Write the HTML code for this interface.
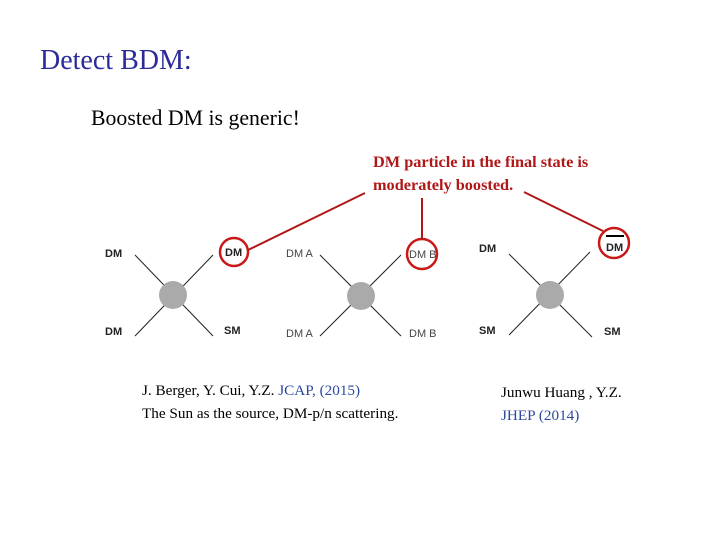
<!DOCTYPE html>
<html><head><style>
body{margin:0;width:720px;height:540px;background:#fff;position:relative;overflow:hidden;font-family:"Liberation Serif",serif}
.t{position:absolute;white-space:nowrap}
</style></head><body>
<div class="t" style="left:40px;top:45px;font-size:28px;color:#2b2b9a">Detect BDM:</div>
<div class="t" style="left:91px;top:106px;font-size:21.8px;color:#000">Boosted DM is generic!</div>
<div class="t" style="left:373px;top:150px;font-size:16.3px;font-weight:bold;line-height:23px;color:#b01818">DM particle in the final state is<br>moderately boosted.</div>
<svg width="720" height="540" style="position:absolute;left:0;top:0" font-family="Liberation Sans, sans-serif" font-size="11">
<g stroke="#222" stroke-width="1">
<line x1="135" y1="255" x2="213" y2="336"/><line x1="213" y1="255" x2="135" y2="336"/>
<line x1="320" y1="255" x2="401" y2="336"/><line x1="401" y1="255" x2="320" y2="336"/>
<line x1="509" y1="254" x2="592" y2="337"/><line x1="590" y1="252" x2="509" y2="335"/>
</g>
<circle cx="173" cy="295" r="14" fill="#aaa"/>
<circle cx="361" cy="296" r="14" fill="#aaa"/>
<circle cx="550" cy="295" r="14" fill="#aaa"/>
<g font-weight="bold" fill="#222">
<text x="105" y="257">DM</text><text x="105" y="335">DM</text>
<text x="225" y="256">DM</text><text x="224" y="334">SM</text>
<text x="479" y="252">DM</text><text x="479" y="334">SM</text>
<text x="606" y="251">DM</text><text x="604" y="335">SM</text>
</g>
<g fill="#444">
<text x="286" y="257">DM A</text><text x="286" y="337">DM A</text>
<text x="409" y="258">DM B</text><text x="409" y="337">DM B</text>
</g>
<line x1="606" y1="236" x2="624" y2="236" stroke="#000" stroke-width="2"/>
<g stroke="#c81818" stroke-width="2.5" fill="none">
<circle cx="234" cy="252" r="14"/><circle cx="422" cy="254" r="15"/><circle cx="614" cy="243" r="15"/>
</g>
<g stroke="#b01818" stroke-width="2">
<line x1="248" y1="250" x2="365" y2="193"/><line x1="422" y1="239" x2="422" y2="198"/><line x1="603" y1="231" x2="524" y2="192"/>
</g>
</svg>
<div class="t" style="left:142px;top:379px;font-size:15.2px;line-height:23px">J. Berger, Y. Cui, Y.Z. <span style="color:#2b4aa0">JCAP, (2015)</span><br>The Sun as the source, DM-p/n scattering.</div>
<div class="t" style="left:501px;top:381px;font-size:15.2px;line-height:23px">Junwu Huang , Y.Z.<br><span style="color:#2b4aa0">JHEP (2014)</span></div>
</body></html>
